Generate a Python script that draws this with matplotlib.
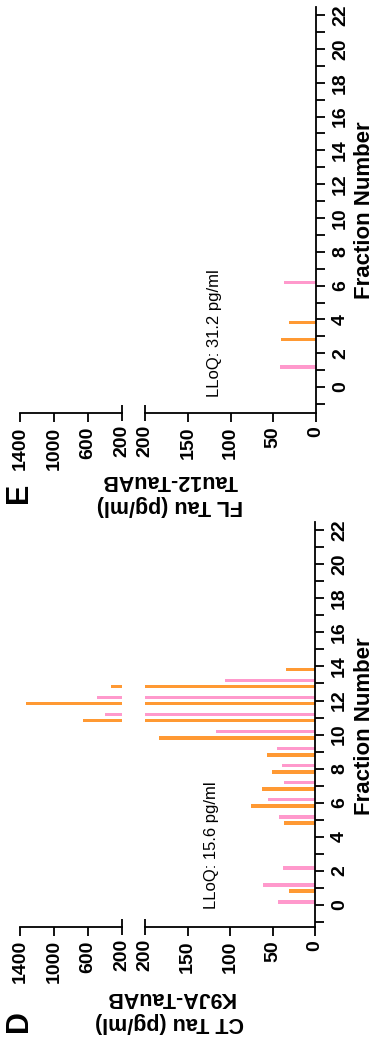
import matplotlib
matplotlib.use("Agg")
import matplotlib.pyplot as plt

plt.rcParams['font.family'] = ['Liberation Sans', 'DejaVu Sans']

ORANGE = '#FF9933'
PINK = '#FF99CC'

# fraction numbers and concentrations (pg/ml)
d_fractions = [0, 1, 2, 3, 4, 5, 6, 7, 8, 9, 10, 11, 12, 13, 14]
d_orange = [0, 31, 0, 0, 0, 36.5, 75, 62, 51, 56, 184, 653, 1333, 326, 34.5]
d_pink = [43, 61, 38, 0, 0, 42, 55, 36.5, 39, 45, 116, 397, 495, 106, 0]

e_fractions = [0, 1, 2, 3, 4, 5, 6]
e_orange = [0, 0, 0, 41, 31, 0, 0]
e_pink = [0, 42, 0, 0, 0, 0, 37]

frac_ticks = list(range(0, 23, 2))
frac_minor = list(range(-1, 23, 2))
low_ticks = [0, 50, 100, 150]
high_ticks = [600, 1000, 1400]

W, H = 377, 1046
fig = plt.figure(figsize=(W / 100, H / 100), dpi=100)


def fx(px):
    return px / W


def fy(py):
    return 1 - py / H


def panel(bottom_px, top_px, right_px, ylim, fractions, orange, pink,
          lloq_text, lloq_xy, ylabel, letter, label_y, letter_y, fracnum_y):
    low = fig.add_axes([fx(145), fy(bottom_px), fx(right_px) - fx(145),
                        fy(top_px) - fy(bottom_px)])
    high = fig.add_axes([fx(20), fy(bottom_px), fx(121.7) - fx(20),
                         fy(top_px) - fy(bottom_px)])
    for ax in (low, high):
        yo = [f - 0.18 for f, v in zip(fractions, orange) if v > 0]
        vo = [v for v in orange if v > 0]
        yp = [f + 0.18 for f, v in zip(fractions, pink) if v > 0]
        vp = [v for v in pink if v > 0]
        ax.barh(yo, vo, height=0.22, color=ORANGE, linewidth=0)
        ax.barh(yp, vp, height=0.22, color=PINK, linewidth=0)
        ax.set_ylim(*ylim)
        ax.patch.set_visible(False)
        for s in ('top', 'left'):
            ax.spines[s].set_visible(False)
        ax.spines['bottom'].set_linewidth(1.3)
        ax.spines['right'].set_linewidth(1.3)
        ax.tick_params(axis='x', which='major', direction='out', length=6.5,
                       width=1.3, pad=3, labelsize=14)
        ax.tick_params(axis='x', which='minor', direction='inout', length=11,
                       width=1.3, pad=3, labelsize=14)

    low.set_xlim(200, 0)
    low.set_xticks(low_ticks, [str(t) for t in low_ticks], rotation=90,
                   fontweight='bold')
    low.set_xticks([200], ['200'], minor=True, rotation=90, fontweight='bold')
    low.yaxis.tick_right()
    low.set_yticks(frac_ticks, [str(t) for t in frac_ticks], rotation=90,
                   va='center', fontweight='bold')
    low.set_yticks(frac_minor, minor=True)
    low.tick_params(axis='y', which='both', direction='out', length=6.5,
                    width=1.3, pad=5, labelsize=14)
    low.text(lloq_xy[0], lloq_xy[1], lloq_text, rotation=90, ha='center',
             va='center', fontsize=12)

    high.set_xlim(1400, 200)
    high.spines['right'].set_visible(False)
    high.set_xticks(high_ticks, [str(t) for t in high_ticks], rotation=90,
                    fontweight='bold')
    high.set_xticks([200], ['200'], minor=True, rotation=90,
                    fontweight='bold')
    high.set_yticks([])

    fig.text(fx(170), fy(label_y), ylabel, rotation=180, ha='center',
             va='center', multialignment='center', fontsize=15.5,
             fontweight='bold')
    fig.text(fx(19), fy(letter_y), letter, rotation=90, ha='center',
             va='center', fontsize=22, fontweight='bold')
    fig.text(fx(364), fy(fracnum_y), 'Fraction Number', rotation=90,
             ha='center', va='center', fontsize=16, fontweight='bold')


panel(927, 521.7, 315, (-1.3, 22.5), d_fractions, d_orange, d_pink,
      'LLoQ: 15.6 pg/ml', (122, 3.5), 'CT Tau (pg/ml)\nK9JA-TauAB', 'D',
      1010, 1021, 726)
panel(413.3, 6.7, 316, (-1.55, 22.5), e_fractions, e_orange, e_pink,
      'LLoQ: 31.2 pg/ml', (119, 3.2), 'FL Tau (pg/ml)\nTau12-TauAB', 'E',
      493, 493, 210)

fig.savefig('out.png', dpi=100)
